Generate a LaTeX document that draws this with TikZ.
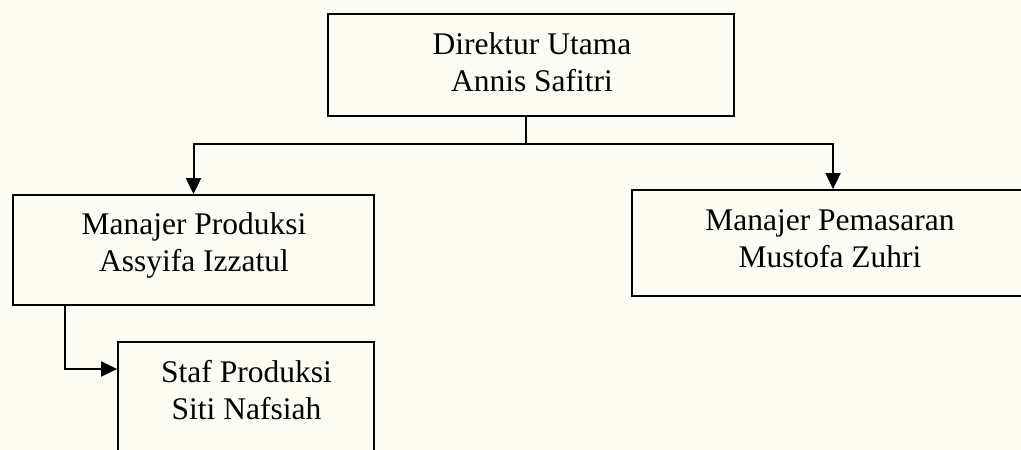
\documentclass[tikz,border=0pt]{standalone}
\usepackage{fontspec}
\setmainfont{Liberation Serif}
\usetikzlibrary{arrows.meta,calc}
\definecolor{bgcream}{RGB}{253,253,243}
\tikzset{
  box/.style={draw=black, line width=1.8pt, inner sep=0pt, fill=none},
  txt/.style={align=center, inner sep=0pt, font=\fontsize{31.5}{37}\selectfont},
  conn/.style={draw=black, line width=2pt},
  arr/.style={conn, -{Triangle[length=16pt,width=15pt]}}
}
\begin{document}
\begin{tikzpicture}[x=1pt,y=-1pt]
\useasboundingbox (0,0) rectangle (1021,450);
\fill[bgcream] (0,0) rectangle (1021,450);
\begin{scope}
\clip (0,0) rectangle (1021,450);
% boxes
\node[box, minimum width=406pt, minimum height=102pt] (dir) at (531,65) {};
\node[box, minimum width=361pt, minimum height=110pt] (mp) at (193.5,250) {};
\node[box, minimum width=402pt, minimum height=106pt] (mpe) at (833,243) {};
\node[box, minimum width=256pt, minimum height=140pt] (staf) at (246,412) {};
\end{scope}
% texts
\node[txt] (dirT) at (532,62.5) {Direktur Utama\\Annis Safitri};
\node[txt] (mpT) at (194,245.5) {Manajer Produksi\\Assyifa Izzatul};
\node[txt] (mpeT) at (830,239) {Manajer Pemasaran\\Mustofa Zuhri};
\node[txt] (stafT) at (246.5,390) {Staf Produksi\\Siti Nafsiah};
% connectors
\coordinate (j) at (526,144);
\coordinate (k) at (65,369);
\draw[conn] (dir.south -| j) -- (j);
\draw[arr] (j) -| (mp.north);
\draw[arr] (j) -| (mpe.north);
\draw[arr] (mp.south -| k) -- (k) -- (staf.west |- k);
\end{tikzpicture}
\end{document}
